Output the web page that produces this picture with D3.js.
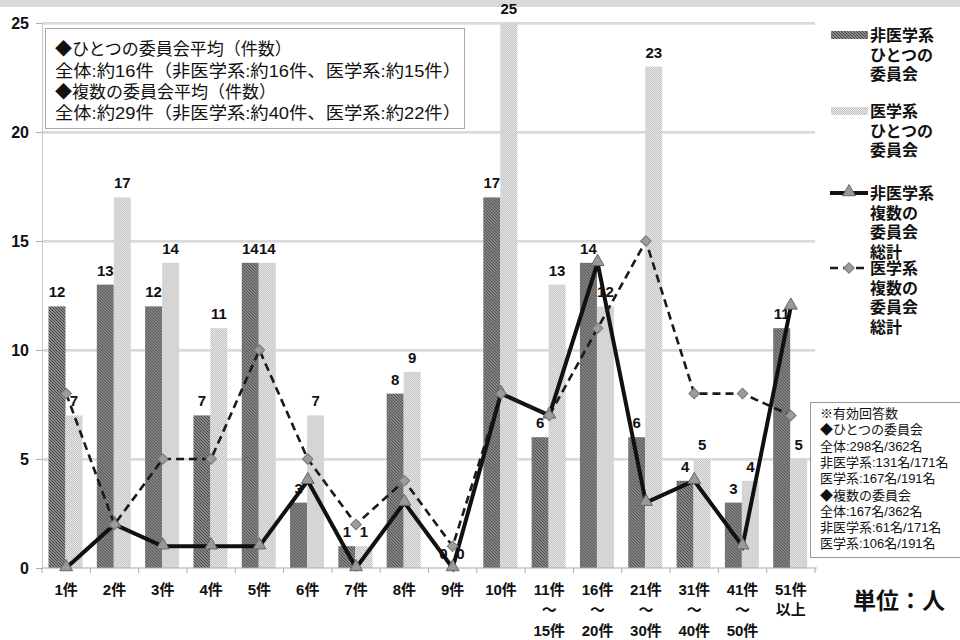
<!DOCTYPE html>
<html lang="ja">
<head>
<meta charset="utf-8">
<script src="https://cdn.jsdelivr.net/npm/d3@7"></script>
<style>
  html, body { margin: 0; padding: 0; background: #fff; }
  svg { display: block; }
  text { font-family: "Liberation Sans", "Noto Sans CJK JP", sans-serif; }
</style>
</head>
<body>
<svg id="chart" width="960" height="640"></svg>
<script>
// Categories: number of reviews per committee (x axis), each may have up to 3 label lines
const categories = ["1件", "2件", "3件", "4件", "5件", "6件", "7件", "8件", "9件", "10件",
  "11件〜15件", "16件〜20件", "21件〜30件", "31件〜40件", "41件〜50件", "51件以上"];
const categoryLines = [["1件"], ["2件"], ["3件"], ["4件"], ["5件"], ["6件"], ["7件"], ["8件"], ["9件"], ["10件"],
  ["11件", "〜", "15件"], ["16件", "〜", "20件"], ["21件", "〜", "30件"], ["31件", "〜", "40件"], ["41件", "〜", "50件"], ["51件", "以上"]];

// Bars: single committee (people)
const nonMedSingle = [12, 13, 12, 7, 14, 3, 1, 8, 0, 17, 6, 14, 6, 4, 3, 11];
const medSingle    = [7, 17, 14, 11, 14, 7, 1, 9, 0, 25, 13, 12, 23, 5, 4, 5];
// Lines: multiple committees total (people)
const nonMedMulti  = [0, 2, 1, 1, 1, 4, 0, 3, 0, 8, 7, 14, 3, 4, 1, 12];
const medMulti     = [8, 2, 5, 5, 10, 5, 2, 4, 1, 8, 7, 11, 15, 8, 8, 7];

const yTicks = [0, 5, 10, 15, 20, 25];

const legendSeries = [
  { kind: "hatch", lines: ["非医学系", "ひとつの", "委員会"] },
  { kind: "dots",  lines: ["医学系", "ひとつの", "委員会"] },
  { kind: "solid", lines: ["非医学系", "複数の", "委員会", "総計"] },
  { kind: "dash",  lines: ["医学系", "複数の", "委員会", "総計"] }
];

const summaryLines = [
  "◆ひとつの委員会平均（件数）",
  "全体:約16件（非医学系:約16件、医学系:約15件）",
  "◆複数の委員会平均（件数）",
  "全体:約29件（非医学系:約40件、医学系:約22件）"
];

const noteLines = [
  "※有効回答数",
  "◆ひとつの委員会",
  "全体:298名/362名",
  "非医学系:131名/171名",
  "医学系:167名/191名",
  "◆複数の委員会",
  "全体:167名/362名",
  "非医学系:61名/171名",
  "医学系:106名/191名"
];

const svg = d3.select("#chart");
const plot = { left: 42, right: 815, top: 23, bottom: 568 };

// patterns for the two bar series
const defs = svg.append("defs");
const hatch = defs.append("pattern").attr("id", "hatch")
  .attr("patternUnits", "userSpaceOnUse").attr("width", 3).attr("height", 3);
hatch.append("rect").attr("width", 3).attr("height", 3).attr("fill", "#a6a6a6");
hatch.append("path").attr("d", "M-1,-1 L4,4 M-1,2 L1,4 M2,-1 L4,1")
  .attr("stroke", "#404040").attr("stroke-width", 1.05);

const dots = defs.append("pattern").attr("id", "dots")
  .attr("patternUnits", "userSpaceOnUse").attr("width", 2).attr("height", 2);
dots.append("rect").attr("width", 2).attr("height", 2).attr("fill", "#ededed");
dots.append("rect").attr("width", 1).attr("height", 1).attr("fill", "#bdbdbd");
dots.append("rect").attr("x", 1).attr("y", 1).attr("width", 1).attr("height", 1).attr("fill", "#bdbdbd");

// top strip
svg.append("rect").attr("x", 0).attr("y", 0).attr("width", 960).attr("height", 7).attr("fill", "#d9d9d9");

const x = d3.scaleBand().domain(categories).range([plot.left, plot.right]).paddingInner(0).paddingOuter(0);
const xSub = d3.scaleBand().domain(["nonMed", "med"]).range([6.5, 40.5]).padding(0);
const y = d3.scaleLinear().domain([0, 25]).range([plot.bottom, plot.top]);

// gridlines
const grid = svg.append("g");
grid.selectAll("line.shadow").data(yTicks.filter(d => d > 0)).join("line")
  .attr("x1", plot.left).attr("x2", plot.right)
  .attr("y1", d => y(d) + 1.5).attr("y2", d => y(d) + 1.5)
  .attr("stroke", "#e4e4e4").attr("stroke-width", 1.2);
grid.selectAll("line.main").data(yTicks.filter(d => d > 0)).join("line")
  .attr("x1", plot.left).attr("x2", plot.right)
  .attr("y1", d => y(d)).attr("y2", d => y(d))
  .attr("stroke", "#b4b4b4").attr("stroke-width", 1.2);

// y axis
const yAxis = svg.append("g").attr("transform", `translate(${plot.left},0)`)
  .call(d3.axisLeft(y).tickValues(yTicks).tickSize(6).tickPadding(7));
yAxis.select(".domain").attr("stroke", "#c8c8c8");
yAxis.selectAll(".tick line").attr("stroke", "#aaa");
yAxis.selectAll(".tick text").attr("font-size", 16).attr("font-weight", "bold").attr("fill", "#111")
  .attr("font-family", "'Liberation Sans', sans-serif");

// bars
const rows = categories.map((c, i) => ({ c, nonMed: nonMedSingle[i], med: medSingle[i] }));
const groups = svg.append("g").selectAll("g").data(rows).join("g")
  .attr("transform", d => `translate(${x(d.c)},0)`);
groups.append("rect")
  .attr("x", xSub("nonMed")).attr("width", xSub.bandwidth())
  .attr("y", d => y(d.nonMed)).attr("height", d => y(0) - y(d.nonMed))
  .attr("fill", "url(#hatch)");
groups.append("rect")
  .attr("x", xSub("med")).attr("width", xSub.bandwidth())
  .attr("y", d => y(d.med)).attr("height", d => y(0) - y(d.med))
  .attr("fill", "url(#dots)");

// x axis
const xAxis = svg.append("g").attr("transform", `translate(0,${plot.bottom})`);
xAxis.append("line").attr("x1", plot.left).attr("x2", plot.right + 2)
  .attr("stroke", "#aaa").attr("stroke-width", 1.2);
xAxis.selectAll("line.tick").data(categories.concat(["end"])).join("line")
  .attr("x1", (d, i) => plot.left + i * x.bandwidth())
  .attr("x2", (d, i) => plot.left + i * x.bandwidth())
  .attr("y1", 0).attr("y2", 5).attr("stroke", "#aaa");

const lineOffsets = [595, 615, 636];
const xl = svg.append("g").selectAll("text").data(categories).join("text")
  .attr("text-anchor", "middle")
  .attr("font-size", 15).attr("font-weight", "bold").attr("fill", "#111");
xl.each(function (d, i) {
  const t = d3.select(this);
  categoryLines[i].forEach((s, k) => {
    t.append("tspan").attr("x", x(d) + x.bandwidth() / 2).attr("y", lineOffsets[k]).text(s);
  });
});

// bar value labels
const labels = svg.append("g").attr("font-size", 15).attr("font-weight", "bold")
  .attr("fill", "#111").attr("text-anchor", "middle");
labels.selectAll("text.nm").data(rows).join("text")
  .attr("x", d => x(d.c) + xSub("nonMed") + xSub.bandwidth() / 2)
  .attr("y", d => y(d.nonMed) - 9).text(d => d.nonMed);
labels.selectAll("text.m").data(rows).join("text")
  .attr("x", d => x(d.c) + xSub("med") + xSub.bandwidth() / 2)
  .attr("y", d => y(d.med) - 9).text(d => d.med);

// line series
const cx = c => x(c) + x.bandwidth() / 2;
const line = d3.line().x(d => cx(d.c)).y(d => y(d.v));
const solidData = categories.map((c, i) => ({ c, v: nonMedMulti[i] }));
const dashData = categories.map((c, i) => ({ c, v: medMulti[i] }));

const triangle = d3.symbol().type(d3.symbolTriangle).size(72);
const diamond = d3.symbol().type(d3.symbolSquare).size(56);

svg.append("path").datum(solidData).attr("d", line)
  .attr("fill", "none").attr("stroke", "#111").attr("stroke-width", 4).attr("stroke-linejoin", "miter");
svg.append("g").selectAll("path").data(solidData).join("path")
  .attr("d", triangle)
  .attr("transform", d => `translate(${cx(d.c)},${y(d.v) - 1})`)
  .attr("fill", "#999").attr("stroke", "#666").attr("stroke-width", 1);

svg.append("path").datum(dashData).attr("d", line)
  .attr("fill", "none").attr("stroke", "#1a1a1a").attr("stroke-width", 2.6).attr("stroke-dasharray", "8,5");
svg.append("g").selectAll("path").data(dashData).join("path")
  .attr("d", diamond)
  .attr("transform", d => `translate(${cx(d.c)},${y(d.v)}) rotate(45)`)
  .attr("fill", "#9c9c9c").attr("stroke", "#777").attr("stroke-width", 1);

// summary box (top left)
svg.append("rect").attr("x", 45.5).attr("y", 28.5).attr("width", 419).attr("height", 100)
  .attr("fill", "#fff").attr("stroke", "#a8a8a8");
const sumY = [55, 77, 98, 119];
svg.append("g").selectAll("text").data(summaryLines).join("text")
  .attr("x", 55).attr("y", (d, i) => sumY[i])
  .attr("font-size", 17).attr("fill", "#111")
  .attr("font-family", "'Noto Sans CJK JP', sans-serif")
  .each(function (d, i) {
    if (i % 2 === 1) d3.select(this).attr("textLength", 406).attr("lengthAdjust", "spacingAndGlyphs");
  })
  .text(d => d);

// legend
const lg = svg.append("g");
const legendTop = [35, 111, 193, 268];
const legendStep = 19.5;
legendSeries.forEach((s, i) => {
  const y0 = legendTop[i];
  if (s.kind === "hatch") {
    lg.append("rect").attr("x", 831).attr("y", y0 - 4).attr("width", 37).attr("height", 8).attr("fill", "url(#hatch)");
  } else if (s.kind === "dots") {
    lg.append("rect").attr("x", 831).attr("y", y0 - 4).attr("width", 37).attr("height", 8).attr("fill", "url(#dots)");
  } else if (s.kind === "solid") {
    lg.append("line").attr("x1", 830).attr("x2", 868).attr("y1", y0).attr("y2", y0)
      .attr("stroke", "#111").attr("stroke-width", 4);
    lg.append("path").attr("d", triangle).attr("transform", `translate(849,${y0 - 1})`)
      .attr("fill", "#999").attr("stroke", "#666");
  } else {
    lg.append("line").attr("x1", 830).attr("x2", 868).attr("y1", y0).attr("y2", y0)
      .attr("stroke", "#1a1a1a").attr("stroke-width", 2.6).attr("stroke-dasharray", "8,5");
    lg.append("path").attr("d", diamond).attr("transform", `translate(849,${y0}) rotate(45)`)
      .attr("fill", "#9c9c9c").attr("stroke", "#777");
  }
  s.lines.forEach((t, k) => {
    lg.append("text").attr("x", 870).attr("y", y0 + 6 + k * legendStep)
      .attr("font-size", 16).attr("font-weight", "bold").attr("fill", "#111")
      .attr("font-family", "'Noto Sans CJK JP', sans-serif").text(t);
  });
});

// response counts note (bottom right)
svg.append("rect").attr("x", 810.5).attr("y", 402.5).attr("width", 160).attr("height", 155)
  .attr("fill", "#fff").attr("stroke", "#999");
svg.append("g").selectAll("text").data(noteLines).join("text")
  .attr("x", 820).attr("y", (d, i) => 418 + i * 16.3)
  .attr("font-size", 13).attr("fill", "#111")
  .attr("font-family", "'Noto Sans CJK JP', sans-serif")
  .text(d => d);

// unit
svg.append("text").attr("x", 853).attr("y", 609)
  .attr("font-size", 23).attr("font-weight", "bold").attr("fill", "#111")
  .attr("font-family", "'Noto Sans CJK JP', sans-serif")
  .text("単位：人");
</script>
</body>
</html>
